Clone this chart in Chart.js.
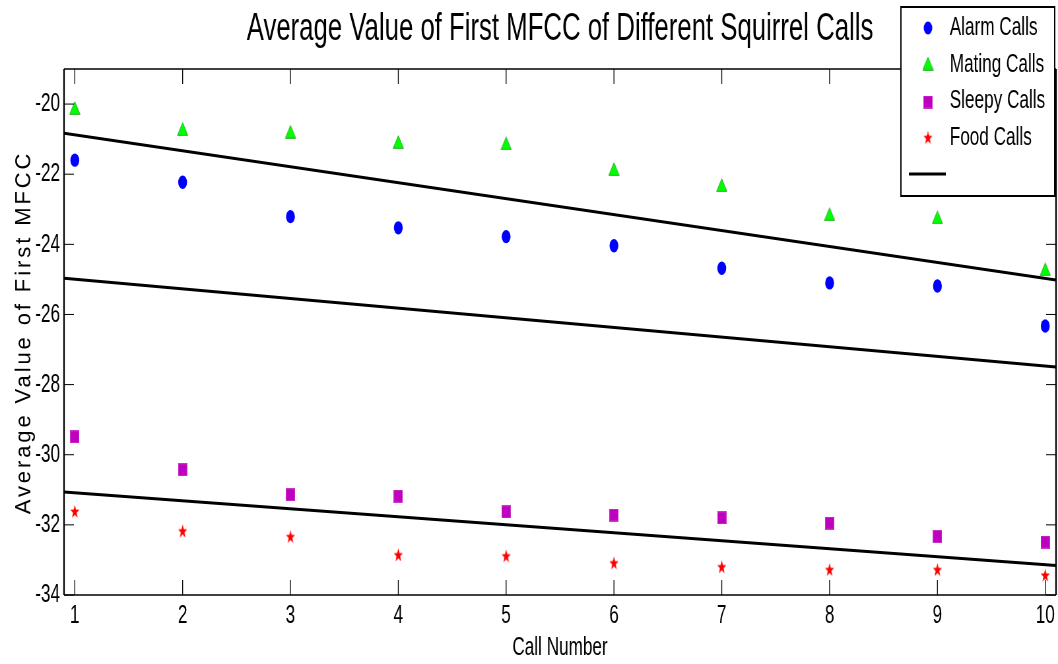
<!DOCTYPE html>
<html><head><meta charset="utf-8">
<script src="https://cdn.jsdelivr.net/npm/chart.js@4"></script>
<style>
html,body{margin:0;padding:0;background:#fff;overflow:hidden}
#wrap{width:1058px;height:664px;overflow:hidden;position:relative;background:#fff}
#c{position:absolute;left:0;top:0;transform:scaleX(0.660012);transform-origin:0 0}
</style></head>
<body><div id="wrap"><canvas id="c" width="1603" height="664"></canvas></div>
<script>
// ---- data ----
const callNumbers = [1, 2, 3, 4, 5, 6, 7, 8, 9, 10];
const alarmCalls  = [-21.60, -22.23, -23.21, -23.53, -23.78, -24.04, -24.68, -25.10, -25.19, -26.33];
const matingCalls = [-20.11, -20.71, -20.79, -21.08, -21.12, -21.85, -22.31, -23.14, -23.23, -24.71];
const sleepyCalls = [-29.49, -30.43, -31.14, -31.18, -31.63, -31.72, -31.80, -31.95, -32.33, -32.49];
const foodCalls   = [-31.62, -32.18, -32.34, -32.86, -32.89, -33.09, -33.20, -33.28, -33.28, -33.44];
const fitX      = [0.9, 10.1];
const fitUpper  = [-20.83, -25.02];
const fitMiddle = [-24.97, -27.50];
const fitLower  = [-31.06, -33.16];
const xTicks = [1, 2, 3, 4, 5, 6, 7, 8, 9, 10];
const yTicks = [-34, -32, -30, -28, -26, -24, -22, -20];
const seriesLabels = ['Alarm Calls', 'Mating Calls', 'Sleepy Calls', 'Food Calls'];
const titleText = 'Average Value of First MFCC of Different Squirrel Calls';
const xTitle = 'Call Number';
const yTitle = 'Average Value of First MFCC';

const S = 1058 / 1603;
const F = '"Liberation Sans", Arial, sans-serif';

function shape(w, h, draw) {
  const c = document.createElement('canvas');
  c.width = w; c.height = h;
  draw(c.getContext('2d'), w, h);
  return c;
}
const triMark = shape(17, 14, (g, w, h) => {
  g.beginPath(); g.moveTo(w / 2, 0.7); g.lineTo(w - 0.7, h - 0.7); g.lineTo(0.7, h - 0.7); g.closePath();
  g.fillStyle = '#00ff00'; g.fill(); g.strokeStyle = '#24a824'; g.lineWidth = 1; g.stroke();
});
const sqMark = shape(14, 13, (g, w, h) => {
  g.fillStyle = '#bf00bf'; g.fillRect(0, 0, w, h);
  g.strokeStyle = '#cc33cc'; g.lineWidth = 1; g.strokeRect(0.5, 0.5, w - 1, h - 1);
});
const starMark = shape(15, 15, (g, w, h) => {
  const cx = w / 2, cy = h / 2 + 0.4, R = 7.2, r = 2.9;
  g.beginPath();
  for (let i = 0; i < 10; i++) {
    const a = -Math.PI / 2 + i * Math.PI / 5;
    const rad = i % 2 === 0 ? R : r;
    const px = cx + rad * Math.cos(a), py = cy + rad * Math.sin(a);
    if (i === 0) g.moveTo(px, py); else g.lineTo(px, py);
  }
  g.closePath(); g.fillStyle = '#ff0000'; g.fill();
});
const pts = arr => callNumbers.map((x, i) => ({ x, y: arr[i] }));
const fit = arr => fitX.map((x, i) => ({ x, y: arr[i] }));

const framePlugin = {
  id: 'frame',
  afterDatasetsDraw(chart) {
    const { ctx, chartArea: { left, top, right, bottom }, scales: { x, y } } = chart;
    ctx.save();
    ctx.strokeStyle = '#000';
    const ln = (a, b, c, d) => { ctx.beginPath(); ctx.moveTo(a, b); ctx.lineTo(c, d); ctx.stroke(); };
    ctx.lineWidth = 1.3;
    x.ticks.forEach(t => { const p = x.getPixelForValue(t.value); ln(p, top, p, top + 15); ln(p, bottom, p, bottom - 15); });
    ctx.lineWidth = 1;
    y.ticks.forEach(t => { const p = y.getPixelForValue(t.value); ln(left, p, left + 15, p); ln(right, p, right - 15, p); });
    ctx.lineWidth = 1.5;
    ln(left, top, right, top); ln(left, bottom, right, bottom);
    ctx.lineWidth = 2.3;
    ln(left, top, left, bottom); ln(right, top, right, bottom);
    ctx.restore();
  }
};

const yTitlePlugin = {
  id: 'ytitle',
  afterDraw(chart) {
    const ctx = chart.ctx;
    ctx.save();
    ctx.translate(24 / S, 334);
    ctx.scale(1 / S, 1);
    ctx.rotate(-Math.PI / 2);
    ctx.font = '22px ' + F;
    try { ctx.letterSpacing = '2.9px'; } catch (e) {}
    ctx.textAlign = 'center'; ctx.textBaseline = 'middle'; ctx.fillStyle = '#000';
    ctx.fillText(yTitle, 1.5, 0);
    ctx.restore();
  }
};

const legendPlugin = {
  id: 'customLegend',
  afterDraw(chart) {
    const ctx = chart.ctx;
    const x1 = 1365, y1 = 7, x2 = 1598, y2 = 196;
    ctx.save();
    ctx.fillStyle = '#fff'; ctx.fillRect(x1, y1, x2 - x1, y2 - y1);
    ctx.strokeStyle = '#000'; ctx.lineWidth = 2; ctx.strokeRect(x1, y1, x2 - x1, y2 - y1);
    const markY = [28, 63.5, 102, 137.7];
    const textY = [27.6, 64.5, 101.3, 138];
    const mx = 1406, tx = 1439;
    chart.data.datasets.slice(0, 4).forEach((ds, i) => {
      const st = ds.pointStyle;
      if (st === 'circle') {
        ctx.beginPath(); ctx.arc(mx, markY[i], 6.5, 0, Math.PI * 2);
        ctx.fillStyle = ds.backgroundColor; ctx.fill();
      } else {
        ctx.drawImage(st, mx - st.width / 2, markY[i] - st.height / 2);
      }
      ctx.font = '26px ' + F; ctx.fillStyle = '#000';
      ctx.textAlign = 'left'; ctx.textBaseline = 'middle';
      ctx.fillText(ds.label, tx, textY[i]);
    });
    ctx.strokeStyle = '#000'; ctx.lineWidth = 3;
    ctx.beginPath(); ctx.moveTo(1377, 174); ctx.lineTo(1433, 174); ctx.stroke();
    ctx.restore();
  }
};

const lineDs = (arr) => ({
  label: '', data: fit(arr), showLine: true, pointRadius: 0, borderColor: '#000',
  backgroundColor: '#000', borderWidth: 3, fill: false, tension: 0
});

new Chart(document.getElementById('c'), {
  type: 'scatter',
  data: {
    datasets: [
      { label: seriesLabels[0], data: pts(alarmCalls), pointStyle: 'circle', pointRadius: 6.7, backgroundColor: '#0000ff', borderColor: '#0000ff', borderWidth: 0 },
      { label: seriesLabels[1], data: pts(matingCalls), pointStyle: triMark, pointRadius: 8, backgroundColor: '#00ff00', borderColor: '#00ff00' },
      { label: seriesLabels[2], data: pts(sleepyCalls), pointStyle: sqMark, pointRadius: 8, backgroundColor: '#bf00bf', borderColor: '#bf00bf' },
      { label: seriesLabels[3], data: pts(foodCalls), pointStyle: starMark, pointRadius: 8, backgroundColor: '#ff0000', borderColor: '#ff0000' },
      lineDs(fitUpper), lineDs(fitMiddle), lineDs(fitLower)
    ]
  },
  options: {
    responsive: false, animation: false, devicePixelRatio: 1, events: [],
    layout: { autoPadding: false, padding: { left: 0, right: 3, top: 0, bottom: 0 } },
    plugins: {
      legend: { display: false }, tooltip: { enabled: false },
      title: {
        display: true, text: titleText, fullSize: false, color: '#000',
        font: { family: F, size: 39, weight: 'normal', lineHeight: 1 },
        padding: { top: 10, bottom: 20 }
      }
    },
    scales: {
      x: {
        type: 'linear', min: 0.9, max: 10.1,
        afterBuildTicks: s => { s.ticks = xTicks.map(v => ({ value: v })); },
        afterFit: s => { s.height = 69; s.paddingLeft = 0; s.paddingRight = 0; },
        grid: { display: false, drawTicks: false, tickLength: 0 }, border: { display: false },
        ticks: { color: '#000', font: { family: F, size: 26 }, padding: 5, autoSkip: false, maxRotation: 0, callback: v => String(v) },
        title: { display: true, text: xTitle, color: '#000', font: { family: F, size: 26 }, padding: { top: 0, bottom: 1 } }
      },
      y: {
        type: 'linear', min: -34, max: -19,
        afterBuildTicks: s => { s.ticks = yTicks.map(v => ({ value: v })); },
        afterFit: s => { s.width = 97; s.paddingTop = 0; s.paddingBottom = 0; },
        grid: { display: false, drawTicks: false, tickLength: 0 }, border: { display: false },
        ticks: { color: '#000', font: { family: F, size: 26 }, padding: 6, autoSkip: false, callback: v => String(v) }
      }
    }
  },
  plugins: [framePlugin, yTitlePlugin, legendPlugin]
});
</script>
</body></html>
